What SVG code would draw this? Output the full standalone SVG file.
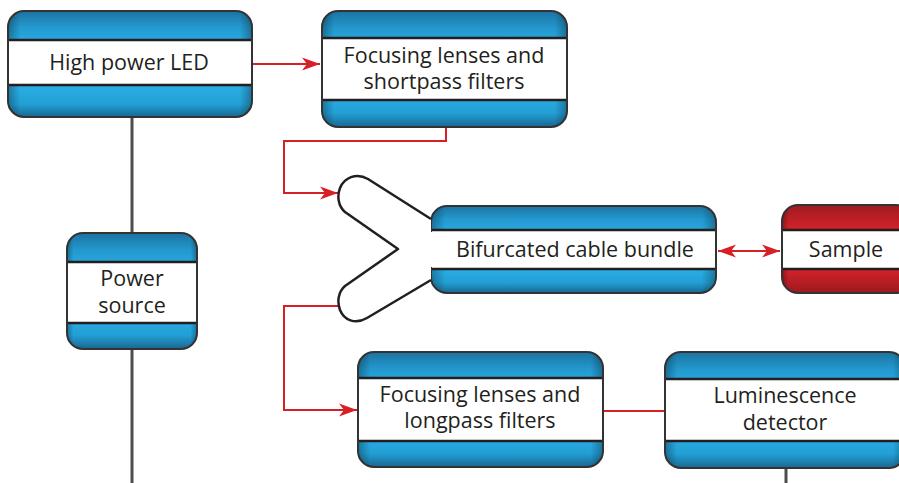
<svg xmlns="http://www.w3.org/2000/svg" width="899" height="483" viewBox="0 0 899 483">
<style>
.outline{fill:none;stroke:#333;stroke-width:2}
.band{fill:#fff}
.bl{stroke:#231f20;stroke-width:2.5}
.lbl{font-family:"Open Sans","Noto Sans",sans-serif;font-size:21.5px;fill:#231f20;text-anchor:middle}
.red{fill:none;stroke:#d71f26;stroke-width:2}
.gray{fill:none;stroke:#4d4d4d;stroke-width:3}
.blue{fill:url(#gBlue)}
.redf{fill:url(#gRed)}
.side{fill:url(#gSide)}
</style>
<defs>
<linearGradient id="gBlue" x1="0" y1="0" x2="0" y2="1">
<stop offset="0" stop-color="#1c72a0"/>
<stop offset="0.15" stop-color="#2399cf"/>
<stop offset="0.3" stop-color="#29abe2"/>
<stop offset="0.75" stop-color="#29abe2"/>
<stop offset="0.88" stop-color="#229fd5"/>
<stop offset="1" stop-color="#1a6790"/>
</linearGradient>
<linearGradient id="gRed" x1="0" y1="0" x2="0" y2="1">
<stop offset="0" stop-color="#9e1b20"/>
<stop offset="0.25" stop-color="#cf2128"/>
<stop offset="0.75" stop-color="#cf2128"/>
<stop offset="1" stop-color="#9b1a1f"/>
</linearGradient>
<linearGradient id="gSide" x1="0" y1="0" x2="1" y2="0">
<stop offset="0" stop-color="#000" stop-opacity="0.3"/>
<stop offset="0.05" stop-color="#000" stop-opacity="0"/>
<stop offset="0.95" stop-color="#000" stop-opacity="0"/>
<stop offset="1" stop-color="#000" stop-opacity="0.3"/>
</linearGradient>
<marker id="arr" viewBox="-19 -7 20 14" refX="0" refY="0" markerWidth="20" markerHeight="14" markerUnits="userSpaceOnUse" orient="auto-start-reverse">
<path d="M0,0 L-18,-6.5 L-13,0 L-18,6.5 Z" fill="#d71f26"/>
</marker>
</defs>

<g id="connectors">
<line class="gray" x1="132" y1="117" x2="132" y2="233"/>
<line class="gray" x1="132" y1="349" x2="132" y2="483"/>
<line class="gray" x1="786" y1="468" x2="786" y2="483"/>
<path class="red" d="M252,64 H320" marker-end="url(#arr)"/>
<path class="red" d="M446,127 V141 H284 V193 H338" marker-end="url(#arr)"/>
<path class="red" d="M340,306 H284 V410 H357" marker-end="url(#arr)"/>
<path class="red" d="M603,411 H665"/>
<path class="red" d="M718,251 H780" marker-start="url(#arr)" marker-end="url(#arr)"/>
</g>

<g id="led">
<rect class="blue" x="8" y="11" width="244" height="106" rx="16"/>
<rect class="side" x="8" y="11" width="244" height="106" rx="16"/>
<rect class="band" x="8" y="40" width="244" height="45"/>
<line class="bl" x1="8" y1="40" x2="252" y2="40"/>
<line class="bl" x1="8" y1="85" x2="252" y2="85"/>
<rect class="outline" x="8" y="11" width="244" height="106" rx="16"/>
<text class="lbl" x="129" y="70">High power LED</text>
</g>

<g id="shortpass">
<rect class="blue" x="322" y="11" width="245" height="116" rx="16"/>
<rect class="side" x="322" y="11" width="245" height="116" rx="16"/>
<rect class="band" x="322" y="38" width="245" height="62"/>
<line class="bl" x1="322" y1="38" x2="567" y2="38"/>
<line class="bl" x1="322" y1="100" x2="567" y2="100"/>
<rect class="outline" x="322" y="11" width="245" height="116" rx="16"/>
<text class="lbl" x="444" y="62.5">Focusing lenses and</text>
<text class="lbl" x="444" y="89">shortpass filters</text>
</g>

<g id="power">
<rect class="blue" x="67" y="233" width="130" height="116" rx="16"/>
<rect class="side" x="67" y="233" width="130" height="116" rx="16"/>
<rect class="band" x="67" y="262" width="130" height="61"/>
<line class="bl" x1="67" y1="262" x2="197" y2="262"/>
<line class="bl" x1="67" y1="323" x2="197" y2="323"/>
<rect class="outline" x="67" y="233" width="130" height="116" rx="16"/>
<text class="lbl" x="132" y="286">Power</text>
<text class="lbl" x="132" y="312.5">source</text>
</g>

<g id="cable">
<rect class="blue" x="431" y="206" width="285" height="87" rx="16"/>
<rect class="side" x="431" y="206" width="285" height="87" rx="16"/>
<rect class="band" x="431" y="230" width="285" height="39"/>
<line class="bl" x1="431" y1="230" x2="716" y2="230"/>
<line class="bl" x1="431" y1="269" x2="716" y2="269"/>
<rect class="outline" x="431" y="206" width="285" height="87" rx="16"/>
<rect x="428" y="232" width="6" height="35" fill="#fff"/>
<path d="M431,219 L368,179 C356,172 344,178 340,188 C337,196 338,206 345,212 L398,249 L345,286 C338,292 337,302 340,310 C344,320 355,325 367,318 L431,280" fill="#fff" stroke="#231f20" stroke-width="2.5" stroke-linejoin="round"/>
<text class="lbl" x="575" y="257">Bifurcated cable bundle</text>
</g>

<g id="sample">
<rect class="redf" x="782" y="205" width="130" height="88" rx="16"/>
<rect class="side" x="782" y="205" width="130" height="88" rx="16"/>
<rect class="band" x="782" y="230" width="130" height="39"/>
<line class="bl" x1="782" y1="230" x2="912" y2="230"/>
<line class="bl" x1="782" y1="269" x2="912" y2="269"/>
<rect class="outline" x="782" y="205" width="130" height="88" rx="16"/>
<text class="lbl" x="846" y="257">Sample</text>
</g>

<g id="longpass">
<rect class="blue" x="358" y="352" width="245" height="115" rx="16"/>
<rect class="side" x="358" y="352" width="245" height="115" rx="16"/>
<rect class="band" x="358" y="378" width="245" height="63"/>
<line class="bl" x1="358" y1="378" x2="603" y2="378"/>
<line class="bl" x1="358" y1="441" x2="603" y2="441"/>
<rect class="outline" x="358" y="352" width="245" height="115" rx="16"/>
<text class="lbl" x="480" y="401.5">Focusing lenses and</text>
<text class="lbl" x="480" y="428">longpass filters</text>
</g>

<g id="detector">
<rect class="blue" x="665" y="352" width="240" height="116" rx="16"/>
<rect class="side" x="665" y="352" width="240" height="116" rx="16"/>
<rect class="band" x="665" y="379" width="240" height="62"/>
<line class="bl" x1="665" y1="379" x2="905" y2="379"/>
<line class="bl" x1="665" y1="441" x2="905" y2="441"/>
<rect class="outline" x="665" y="352" width="240" height="116" rx="16"/>
<text class="lbl" x="785" y="403">Luminescence</text>
<text class="lbl" x="785" y="430">detector</text>
</g>
</svg>
